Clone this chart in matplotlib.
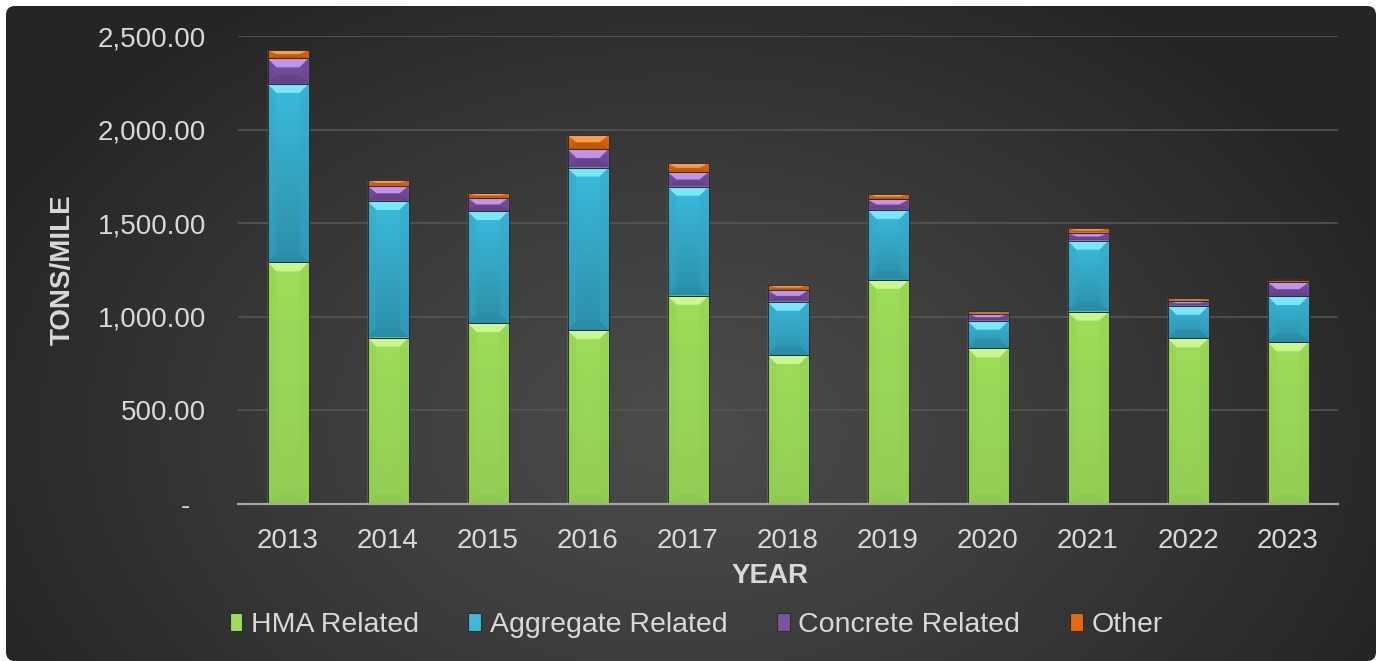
import numpy as np
import matplotlib
matplotlib.use("Agg")
import matplotlib.pyplot as plt
from matplotlib.patches import FancyBboxPatch, Polygon, Rectangle
from matplotlib.colors import to_rgb

years = ["2013", "2014", "2015", "2016", "2017", "2018", "2019", "2020", "2021", "2022", "2023"]
hma = [1291, 889, 967, 929, 1113, 796, 1197, 832, 1028, 885, 864]
aggregate = [953, 730, 598, 868, 582, 285, 374, 147, 379, 174, 247]
concrete = [137, 81, 70, 99, 77, 62, 57, 38, 43, 27, 73]
other = [44, 31, 26, 73, 48, 27, 28, 14, 23, 13, 13]
series_names = ["HMA Related", "Aggregate Related", "Concrete Related", "Other"]
yticks = [0, 500, 1000, 1500, 2000, 2500]
ytick_labels = ["-  ", "500.00", "1,000.00", "1,500.00", "2,000.00", "2,500.00"]

# (body, top bevel, bottom bevel, side bevel, bottom shade alpha)
styles = [
    ("#9ddd5a", "#c9f68e", "#88c64a", "#90d050", 0.07),
    ("#3bbbdc", "#78e8f8", "#2a8aa6", "#33a7c6", 0.24),
    ("#7a52a2", "#c193ea", "#5e3d80", "#6c4790", 0.12),
    ("#e46a0c", "#f89c4e", "#b04f08", "#cc5c0a", 0.08),
]

plt.rcParams['font.family'] = ['Liberation Sans', 'DejaVu Sans']
W, H = 1376, 661
fig = plt.figure(figsize=(W / 100, H / 100), dpi=100, facecolor="white")

# background with radial gradient in rounded rect
bg = fig.add_axes([0, 0, 1, 1])
bg.set_xlim(0, W)
bg.set_ylim(H, 0)
bg.axis("off")
yy, xx = np.mgrid[0:H, 0:W]
r = np.sqrt(((xx - 680) / 760.0) ** 2 + ((yy - 430) / 520.0) ** 2)
t = np.clip(r, 0, 1) ** 1.2
c0 = np.array(to_rgb("#4b4b4b"))
c1 = np.array(to_rgb("#252525"))
img = c0[None, None, :] * (1 - t[..., None]) + c1[None, None, :] * t[..., None]
im = bg.imshow(img, extent=[0, W, H, 0], interpolation="bilinear", zorder=0)
box = FancyBboxPatch((6, 6), W - 6, H - 6, boxstyle="round,pad=0,rounding_size=9",
                     transform=bg.transData, facecolor="none", edgecolor="none")
bg.add_patch(box)
im.set_clip_path(box)
bg.set_aspect("auto")

ax = fig.add_axes([238 / W, 1 - 504 / H, 1100 / W, 468 / H])
ax.set_facecolor("none")
ax.set_xlim(-0.5, len(years) - 0.5)
ax.set_ylim(0, 2500)

x = np.arange(len(years))
width = 0.41
bottom = np.zeros(len(years))
data = [hma, aggregate, concrete, other]
px_x = 1.0 / 100.0
px_y = 2500 / 468.0
for vals, (body, top, bot, side, sh) in zip(data, styles):
    vals = np.array(vals, dtype=float)
    shade = np.zeros((64, 2, 4))
    shade[..., 3] = np.linspace(0.0, sh, 64)[:, None]
    bars = ax.bar(x, vals, width, bottom=bottom, color=body, edgecolor="#2e2e2e",
                  linewidth=0.7, zorder=3)
    for b in bars:
        x0 = b.get_x(); x1 = x0 + b.get_width()
        y0 = b.get_y(); y1 = y0 + b.get_height()
        dy = min(9 * px_y, (y1 - y0) / 2)
        dx = 9 * px_x
        ax.imshow(shade, extent=(x0, x1, y0, y1), aspect="auto", zorder=3.1,
                  interpolation="bilinear")
        # side bevels
        ax.add_patch(Polygon([(x0, y0), (x0 + dx, y0 + dy), (x0 + dx, y1 - dy), (x0, y1)],
                             closed=True, facecolor=side, alpha=0.45, edgecolor="none", zorder=3.2))
        ax.add_patch(Polygon([(x1, y0), (x1 - dx, y0 + dy), (x1 - dx, y1 - dy), (x1, y1)],
                             closed=True, facecolor=side, alpha=0.45, edgecolor="none", zorder=3.2))
        # bottom bevel
        ax.add_patch(Polygon([(x0, y0), (x1, y0), (x1 - dx, y0 + dy), (x0 + dx, y0 + dy)],
                             closed=True, facecolor=bot, alpha=0.5, edgecolor="none", zorder=3.3))
        # top bevel
        ax.add_patch(Polygon([(x0, y1), (x1, y1), (x1 - dx, y1 - dy), (x0 + dx, y1 - dy)],
                             closed=True, facecolor=top, edgecolor="none", zorder=3.4))
        ax.add_patch(Rectangle((x0, y0), x1 - x0, y1 - y0, facecolor="none",
                               edgecolor="#2e2e2e", linewidth=0.7, zorder=3.5))
    bottom = bottom + vals

ax.set_xlim(-0.5, len(years) - 0.5)
ax.set_ylim(0, 2500)
ax.set_yticks(yticks)
ax.set_yticklabels(ytick_labels)
ax.set_xticks(x)
ax.set_xticklabels(years)
ax.tick_params(axis="y", length=0, pad=23, labelsize=20, labelcolor="#d9d9d9")
ax.tick_params(axis="x", length=0, pad=17, labelsize=20, labelcolor="#d9d9d9")
ax.grid(axis="y", color="#555555", linewidth=1.2, zorder=1)
ax.set_axisbelow(True)
for s in ["top", "right", "left"]:
    ax.spines[s].set_visible(False)
ax.spines["bottom"].set_color("#a6a6a6")
ax.spines["bottom"].set_linewidth(1.6)
ax.spines["bottom"].set_zorder(4)

fig.text(770 / W, 1 - 576 / H, "YEAR", ha="center", va="center", fontsize=20,
         fontweight="bold", color="#d9d9d9")
fig.text(63 / W, 1 - 270 / H, "TONS/MILE", ha="center", va="center", fontsize=20,
         fontweight="bold", color="#d9d9d9", rotation=90)

handles = [Rectangle((0, 0), 1, 1, facecolor=s[0], edgecolor="#2e2e2e", linewidth=0.8)
           for s in styles]
leg = fig.legend(handles, series_names, loc="center", bbox_to_anchor=(696 / W, 1 - 625 / H),
                 ncol=4, frameon=False, fontsize=20.5, handlelength=0.45, handleheight=0.55,
                 handletextpad=0.3, columnspacing=1.74, labelcolor="#d9d9d9")

fig.savefig("out.png", dpi=100, facecolor="white")
